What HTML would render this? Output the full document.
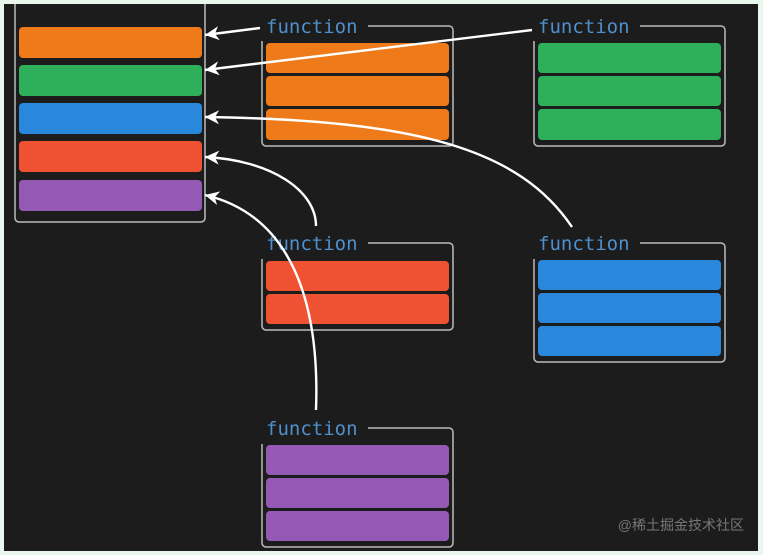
<!DOCTYPE html>
<html><head><meta charset="utf-8"><style>
html,body{margin:0;padding:0;width:763px;height:555px;overflow:hidden;background:#eaf7ee}
svg{display:block}
text{font-family:"DejaVu Sans Mono","Liberation Mono",monospace}
</style></head><body>
<svg width="763" height="555" viewBox="0 0 763 555">
<defs>
<marker id="ah" markerWidth="16" markerHeight="16" refX="0" refY="7" orient="auto" markerUnits="userSpaceOnUse" viewBox="0 0 16 14">
<path d="M0,7 L14,0 L10,7 L14,14 Z" fill="#fff"/>
</marker>
</defs>
<rect x="4" y="4" width="754" height="547" fill="#1c1c1c"/>
<path d="M15,4 V218 a4,4 0 0 0 4,4 H201 a4,4 0 0 0 4,-4 V4" fill="none" stroke="#bbb" stroke-width="1.5"/>
<rect x="19" y="27" width="183" height="31" rx="4" fill="#ee7a1a"/>
<rect x="19" y="65" width="183" height="31" rx="4" fill="#2eb05a"/>
<rect x="19" y="103" width="183" height="31" rx="4" fill="#2a88dc"/>
<rect x="19" y="141" width="183" height="31" rx="4" fill="#ee5233"/>
<rect x="19" y="180" width="183" height="31" rx="4" fill="#9459b4"/>

<g fill="none" stroke="#bbb" stroke-width="1.5">
<path d="M368,26 H449 a4,4 0 0 1 4,4 V142 a4,4 0 0 1 -4,4 H266 a4,4 0 0 1 -4,-4 V41"/>
<path d="M640,26 H721 a4,4 0 0 1 4,4 V142 a4,4 0 0 1 -4,4 H538 a4,4 0 0 1 -4,-4 V41"/>
<path d="M368,243 H449 a4,4 0 0 1 4,4 V326 a4,4 0 0 1 -4,4 H266 a4,4 0 0 1 -4,-4 V259"/>
<path d="M640,243 H721 a4,4 0 0 1 4,4 V358 a4,4 0 0 1 -4,4 H538 a4,4 0 0 1 -4,-4 V259"/>
<path d="M368,428 H449 a4,4 0 0 1 4,4 V543 a4,4 0 0 1 -4,4 H266 a4,4 0 0 1 -4,-4 V444"/>
</g>
<g font-size="19" fill="#4f8fcc">
<text x="266" y="33">function</text>
<text x="538" y="33">function</text>
<text x="266" y="250">function</text>
<text x="538" y="250">function</text>
<text x="266" y="435">function</text>
</g>
<g fill="#ee7a1a">
<rect x="266" y="43" width="183" height="30" rx="4"/>
<rect x="266" y="76" width="183" height="30" rx="4"/>
<rect x="266" y="109" width="183" height="31" rx="4"/>
</g>
<g fill="#2eb05a">
<rect x="538" y="43" width="183" height="30" rx="4"/>
<rect x="538" y="76" width="183" height="30" rx="4"/>
<rect x="538" y="109" width="183" height="31" rx="4"/>
</g>
<g fill="#ee5233">
<rect x="266" y="261" width="183" height="30" rx="4"/>
<rect x="266" y="294" width="183" height="30" rx="4"/>
</g>
<g fill="#2a88dc">
<rect x="538" y="260" width="183" height="30" rx="4"/>
<rect x="538" y="293" width="183" height="30" rx="4"/>
<rect x="538" y="326" width="183" height="30" rx="4"/>
</g>
<g fill="#9459b4">
<rect x="266" y="445" width="183" height="30" rx="4"/>
<rect x="266" y="478" width="183" height="30" rx="4"/>
<rect x="266" y="511" width="183" height="30" rx="4"/>
</g>

<g fill="none" stroke="#fff" stroke-width="2.4" marker-start="url(#ah)">
<path d="M205,35 L260,28"/>
<path d="M205,70 L532,30"/>
<path d="M205,117 C420,120 520,150 572,227"/>
<path d="M205,157 C270,160 316,190 316,226"/>
<path d="M205,195 C290,215 320,300 316,410"/>
</g>

<text x="744" y="530" text-anchor="end" font-size="14" fill="#777" style='font-family:"Liberation Sans","Noto Sans CJK SC",sans-serif'>@稀土掘金技术社区</text>
</svg>
</body></html>
